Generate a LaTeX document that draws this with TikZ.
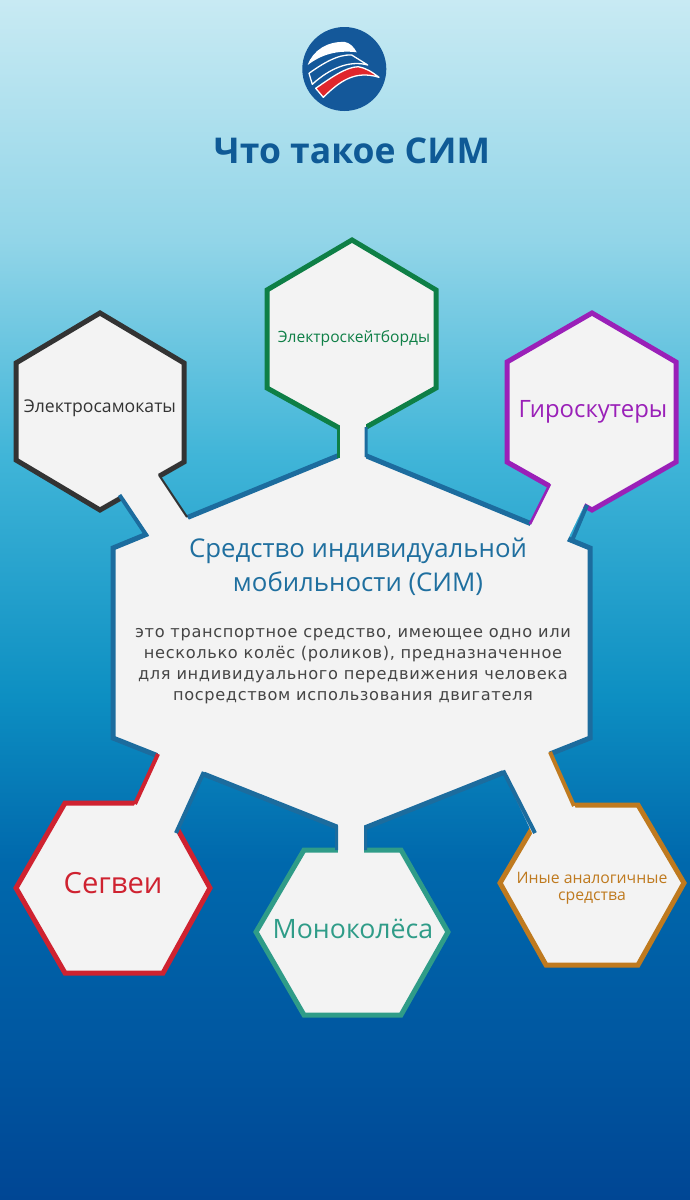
\documentclass[tikz,border=0pt]{standalone}
\usepackage{fontspec}
\setmainfont{Open Sans}
\newfontfamily\bodyfont[LetterSpace=4]{DejaVu Sans}
\usepackage{xcolor}
\usepackage{tikz}
\usetikzlibrary{positioning}

\definecolor{panel}{HTML}{F3F3F3}
\definecolor{hubedge}{HTML}{1C6C9E}
\definecolor{titleblue}{HTML}{0F5A96}
\definecolor{subblue}{HTML}{1F6F9F}
\definecolor{bodygrey}{HTML}{454545}
\definecolor{logoblue}{HTML}{14589A}
\definecolor{logored}{HTML}{E0262C}
\definecolor{cellblack}{HTML}{333333}
\definecolor{cellgreen}{HTML}{0E7F46}
\definecolor{cellpurple}{HTML}{9A20B8}
\definecolor{cellred}{HTML}{CF2230}
\definecolor{cellteal}{HTML}{2F9C88}
\definecolor{cellorange}{HTML}{BF7A1F}

\definecolor{skya}{HTML}{004694}
\definecolor{skyb}{HTML}{0056A0}
\definecolor{skyc}{HTML}{0068AC}
\definecolor{skyd}{HTML}{0D8FC2}
\definecolor{skye}{HTML}{40B5D8}
\definecolor{skyf}{HTML}{92D5E8}
\definecolor{skyg}{HTML}{C8EAF3}

\pgfdeclareverticalshading{skybg}{100bp}{
	color(0bp)=(skya);
	color(25bp)=(skya);
	color(31bp)=(skyb);
	color(39bp)=(skyc);
	color(46bp)=(skyd);
	color(56bp)=(skye);
	color(65bp)=(skyf);
	color(75bp)=(skyg);
	color(100bp)=(skyg)}

\tikzset{
	cell/.style={draw=#1, line width=5pt, fill=panel, line join=miter},
	stem/.style={draw=panel, line width=#1},
	edge/.style={draw=#1, line width=4pt, line cap=butt, line join=miter},
	label/.style={text=#1, align=center, inner sep=0pt}
}

\begin{document}
\begin{tikzpicture}[x=1pt, y=-1pt]
	\useasboundingbox (0,0) rectangle (690,1200);
	\fill[shading=skybg, shading angle=0] (0,0) rectangle (690,1200);

	% logo
	\fill[logoblue] (344.3,69) circle (42);
	\fill[white] (307.7,65) .. controls (313,50) and (328,41) .. (345,42)
		.. controls (350,43) and (354,47) .. (356.7,52.3)
		.. controls (338,50) and (322,54) .. (307.7,65) -- cycle;
	\draw[white, line width=1.3pt, line join=round] (309,73.3) .. controls (322,64) and (338,54) .. (351.7,55)
		-- (367.7,65) .. controls (350,60) and (330,68) .. (312.3,84.3) -- cycle;
	\draw[white, line width=1.3pt, fill=logored, line join=round] (315.7,88.3) .. controls (332,77) and (346,67) .. (358.3,66.7)
		.. controls (366,68) and (372,72) .. (379,77.3)
		.. controls (355,70) and (340,81) .. (323.3,97.3) -- cycle;

	% title
	\node[label=titleblue, font=\bfseries\fontsize{35.5}{40}\selectfont] (title) at (352,151) {Что такое СИМ};

	% hub and cells
	\draw[cell=hubedge] (113,548) -- (352,450) -- (590,548) -- (590,738) -- (352,833) -- (113,738) -- cycle;
	\draw[cell=cellblack] (100,313) -- (184,363) -- (184,462) -- (100,510) -- (16,460) -- (16,363) -- cycle;
	\draw[cell=cellgreen] (352,240) -- (436,290) -- (436,388) -- (352,435) -- (267,388) -- (267,290) -- cycle;
	\draw[cell=cellpurple] (592,313) -- (676,362) -- (676,462) -- (592,510) -- (507,462) -- (507,362) -- cycle;
	\draw[cell=cellred] (65,803) -- (163,803) -- (210,888) -- (163,973) -- (65,973) -- (16,888) -- cycle;
	\draw[cell=cellteal] (304,850) -- (401,850) -- (448,932) -- (401,1015) -- (304,1015) -- (256,932) -- cycle;
	\draw[cell=cellorange] (546,805) -- (638,805) -- (684,883) -- (638,965) -- (546,965) -- (500,883) -- cycle;

	% stems
	\coordinate (hubblack) at (182,547);
	\coordinate (stemblack) at (125,463);
	\coordinate (hubgreen) at (352.5,480);
	\coordinate (stemgreen) at (352.5,400);
	\coordinate (hubpurple) at (539,553);
	\coordinate (stempurple) at (578,472);
	\coordinate (hubred) at (189,746);
	\coordinate (stemred) at (139,855);
	\coordinate (hubteal) at (351,815);
	\coordinate (stemteal) at (351,870);
	\coordinate (huborange) at (518,745);
	\coordinate (stemorange) at (565,844);

	\draw[stem=42pt] (hubblack) -- (stemblack);
	\draw[stem=26pt] (hubgreen) -- (stemgreen);
	\draw[stem=40pt] (hubpurple) -- (stempurple);
	\draw[stem=50pt] (hubred) -- (stemred);
	\draw[stem=26pt] (hubteal) -- (stemteal);
	\draw[stem=50pt] (huborange) -- (stemorange);

	% stem edges
	\draw[edge=hubedge] (119.5,495) -- (146,534.5) -- (125,543);
	\draw[edge=cellblack, line width=2pt] (159,475) -- (187,517);
	\draw[edge=hubedge] (338,456) -- (320,463);
	\draw[edge=cellgreen, line width=3pt] (338,426) -- (338,458);
	\draw[edge=hubedge, line width=3pt] (366,427) -- (366,455.8) -- (385,463.6);
	\draw[edge=cellpurple, line width=2.5pt] (550,484) -- (530,524);
	\draw[edge=hubedge] (587,505) -- (572,540.6) -- (586,546.4);
	\draw[edge=cellred] (158,754) -- (135,804);
	\draw[edge=hubedge] (176,833) -- (203,773.8) -- (225,782.5);
	\draw[edge=hubedge, line width=3pt] (336.5,850) -- (336.5,826.8) -- (320,820.2);
	\draw[edge=hubedge, line width=3pt] (365.5,850) -- (365.5,827.6) -- (382,821);
	\draw[edge=hubedge] (535,833) -- (504,772.3) -- (480,781.9);
	\draw[edge=cellorange] (550,752) -- (574,806);

	% labels
	\node[label=cellblack, font=\fontsize{17.6}{20}\selectfont] (samokat) at (100,408) {Электросамокаты};
	\node[label=cellgreen, font=\fontsize{15.6}{18}\selectfont] (skate) at (354,338.5) {Электроскейтборды};
	\node[label=cellpurple, font=\fontsize{23.9}{28}\selectfont] (giro) at (593,412) {Гироскутеры};
	\node[label=cellred, font=\fontsize{29.2}{32}\selectfont] (segway) at (113,883) {Сегвеи};
	\node[label=cellteal, font=\fontsize{26.7}{30}\selectfont] (mono) at (353,929) {Моноколёса};
	\node[label=cellorange, font=\fontsize{15.8}{17}\selectfont] (other) at (592,888) {Иные аналогичные\\средства};
	\node[label=subblue, font=\fontsize{25.8}{34.5}\selectfont] (hubtitle) at (358,567) {Средство индивидуальной\\мобильности (СИМ)};
	\node[label=bodygrey, font=\bodyfont\fontsize{16.2}{21}\selectfont] (hubtext) at (353,666)
		{это транспортное средство, имеющее одно или\\несколько колёс (роликов), предназначенное\\для индивидуального передвижения человека\\посредством использования двигателя};
\end{tikzpicture}
\end{document}
